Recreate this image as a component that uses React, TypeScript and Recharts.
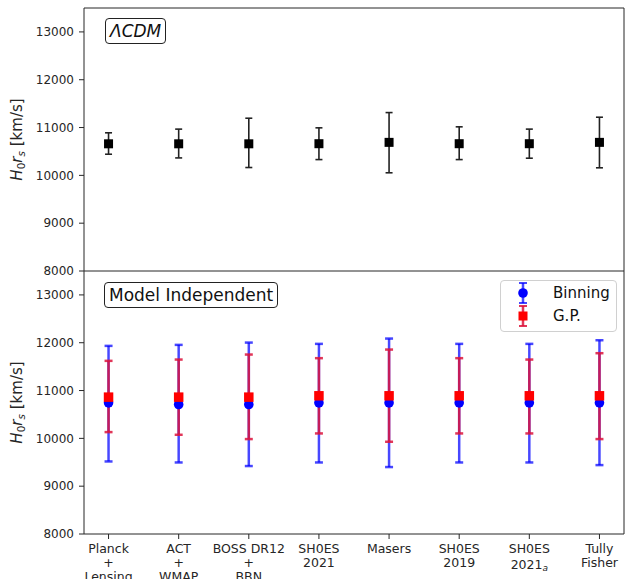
import React from 'react';
import { ScatterChart, Scatter, XAxis, YAxis, ErrorBar, ReferenceLine } from 'recharts';

// ---------- data ----------
const categories = [
  'Planck\n+\nLensing',
  'ACT\n+\nWMAP',
  'BOSS DR12\n+\nBBN',
  'SH0ES\n2021',
  'Masers',
  'SH0ES\n2019',
  'SH0ES\n2021_a',
  'Tully\nFisher',
];

const lcdmCenter = [10660, 10660, 10660, 10662, 10690, 10662, 10662, 10690];
const lcdmUpper = [10890, 10967, 11195, 10994, 11313, 11015, 10967, 11216];
const lcdmLower = [10442, 10365, 10164, 10330, 10054, 10330, 10359, 10158];

const binCenter = [10743, 10708, 10708, 10743, 10743, 10743, 10743, 10743];
const binUpper = [11934, 11955, 12003, 11976, 12087, 11976, 11976, 12052];
const binLower = [9517, 9496, 9421, 9496, 9400, 9496, 9496, 9441];

const gpCenter = [10862, 10862, 10862, 10890, 10890, 10890, 10890, 10890];
const gpUpper = [11621, 11648, 11753, 11677, 11857, 11677, 11648, 11781];
const gpLower = [10131, 10075, 9985, 10103, 9929, 10103, 10103, 9985];

const yTicks = [8000, 9000, 10000, 11000, 12000, 13000];
const yMin = 8000;
const yMax = 13500;
const xTicks = [0, 1, 2, 3, 4, 5, 6, 7];
const xMin = -0.35;
const xMax = 7.35;

const build = (c: number[], lo: number[], hi: number[]) =>
  c.map((v, i) => ({ x: i, y: v, err: [v - lo[i], hi[i] - v] }));

const lcdmData = build(lcdmCenter, lcdmLower, lcdmUpper);
const binData = build(binCenter, binLower, binUpper);
const gpData = build(gpCenter, gpLower, gpUpper);

// ---------- styles ----------
const FONT = '"DejaVu Sans", sans-serif';
const AX = '#262626';
const BLUE = '#0000ff';
const RED = '#ff0000';
const BLUE_BAR = 'rgba(0,0,255,0.72)';
const RED_BAR = 'rgba(220,20,60,0.85)';

const Square = (size: number, fill: string) => (props: any) => {
  const { cx, cy } = props;
  if (cx == null || cy == null) return null;
  return <rect x={cx - size / 2} y={cy - size / 2} width={size} height={size} fill={fill} />;
};
const Circle = (r: number, fill: string) => (props: any) => {
  const { cx, cy } = props;
  if (cx == null || cy == null) return null;
  return <circle cx={cx} cy={cy} r={r} fill={fill} />;
};

const XTick = (props: any) => {
  const { x, y, payload } = props;
  const label = categories[payload.value] || '';
  const lines = label.split('\n');
  const out: React.ReactNode[] = [];
  lines.forEach((l: string, k: number) => {
    const dy = k === 0 ? 10.5 : 14.2;
    if (l.includes('_')) {
      const [a, b] = l.split('_');
      out.push(
        <tspan key={k + 'a'} x={x} dy={dy + 2}>
          {a}
        </tspan>
      );
      out.push(
        <tspan key={k + 'b'} fontStyle="italic" fontSize={9} dy={2}>
          {b}
        </tspan>
      );
    } else {
      out.push(
        <tspan key={k} x={x} dy={dy}>
          {l}
        </tspan>
      );
    }
  });
  return (
    <text x={x} y={y} textAnchor="middle" fontSize={12.5} fill={AX} fontFamily={FONT}>
      {out}
    </text>
  );
};

const YLabel = ({ top }: { top: number }) => (
  <svg width={30} height={263} style={{ position: 'absolute', left: 0, top, overflow: 'visible' }}>
    <text
      transform={`translate(22, 131.5) rotate(-90)`}
      textAnchor="middle"
      fontSize={15}
      fontFamily={FONT}
      fill={AX}
    >
      <tspan fontStyle="italic">H</tspan>
      <tspan fontSize={10.5} dy={3}>0</tspan>
      <tspan fontStyle="italic" dy={-3}>r</tspan>
      <tspan fontStyle="italic" fontSize={10.5} dy={3}>s</tspan>
      <tspan dy={-3}> [km/s]</tspan>
    </text>
  </svg>
);

const Box = ({ left, top, children, italic }: any) => (
  <div
    style={{
      position: 'absolute',
      left,
      top,
      border: '1px solid #222',
      borderRadius: 4,
      background: 'white',
      padding: '1px 4px',
      fontFamily: FONT,
      fontSize: 17,
      lineHeight: '22px',
      fontStyle: italic ? 'italic' : 'normal',
      color: '#111',
      whiteSpace: 'nowrap',
    }}
  >
    {children}
  </div>
);

const LegendIcon = ({ color, barColor, square }: any) => (
  <svg width={20} height={26} style={{ display: 'block' }}>
    <line x1={10} x2={10} y1={3} y2={23} stroke={barColor} strokeWidth={2.5} />
    <line x1={6} x2={14} y1={3} y2={3} stroke={barColor} strokeWidth={2} />
    <line x1={6} x2={14} y1={23} y2={23} stroke={barColor} strokeWidth={2} />
    {square ? (
      <rect x={5.5} y={8.5} width={9} height={9} fill={color} />
    ) : (
      <circle cx={10} cy={13} r={4.8} fill={color} />
    )}
  </svg>
);

const yAxisProps = {
  type: 'number' as const,
  dataKey: 'y',
  domain: [yMin, yMax],
  ticks: yTicks,
  allowDataOverflow: true,
  width: 84,
  tickSize: 5,
  tickMargin: 5,
  tick: { fontSize: 12, fill: AX, fontFamily: FONT },
  tickLine: { stroke: AX },
  axisLine: { stroke: AX, strokeWidth: 1 },
  interval: 0 as const,
};

export default function App() {
  return (
    <div
      style={{
        position: 'absolute',
        left: 0,
        top: 0,
        width: 625,
        height: 579,
        background: 'white',
        overflow: 'hidden',
      }}
    >
      {/* bottom panel */}
      <div style={{ position: 'absolute', left: 0, top: 270 }}>
        <ScatterChart width={625} height={309} margin={{ top: 1, right: 1, bottom: 0, left: 0 }}>
          <XAxis
            type="number"
            dataKey="x"
            domain={[xMin, xMax]}
            ticks={xTicks}
            allowDataOverflow
            height={45}
            interval={0}
            tickSize={5}
            tickMargin={3}
            tick={<XTick />}
            tickLine={{ stroke: AX }}
            axisLine={{ stroke: AX, strokeWidth: 1 }}
          />
          <YAxis {...yAxisProps} />
          <ReferenceLine y={yMax} stroke={AX} strokeWidth={1} ifOverflow="visible" />
          <ReferenceLine x={xMax} stroke={AX} strokeWidth={1} ifOverflow="visible" />
          <Scatter data={binData} isAnimationActive={false} shape={Circle(4.8, BLUE)}>
            <ErrorBar dataKey="err" direction="y" width={4} stroke={BLUE_BAR} strokeWidth={2.5} />
          </Scatter>
          <Scatter data={gpData} isAnimationActive={false} shape={Square(9.5, RED)}>
            <ErrorBar dataKey="err" direction="y" width={4} stroke={RED_BAR} strokeWidth={2.5} />
          </Scatter>
        </ScatterChart>
      </div>

      {/* top panel */}
      <div style={{ position: 'absolute', left: 0, top: 0 }}>
        <ScatterChart width={625} height={286} margin={{ top: 8, right: 1, bottom: 15, left: 0 }}>
          <XAxis
            type="number"
            dataKey="x"
            domain={[xMin, xMax]}
            ticks={xTicks}
            allowDataOverflow
            height={0}
            tick={false}
            tickLine={false}
            axisLine={{ stroke: AX, strokeWidth: 1 }}
          />
          <YAxis {...yAxisProps} />
          <ReferenceLine y={yMax} stroke={AX} strokeWidth={1} ifOverflow="visible" />
          <ReferenceLine x={xMax} stroke={AX} strokeWidth={1} ifOverflow="visible" />
          <Scatter data={lcdmData} isAnimationActive={false} shape={Square(9, '#000')}>
            <ErrorBar dataKey="err" direction="y" width={3.5} stroke="#222" strokeWidth={1.6} />
          </Scatter>
        </ScatterChart>
      </div>

      <YLabel top={8} />
      <YLabel top={271} />

      <Box left={105} top={18} italic>
        ΛCDM
      </Box>
      <Box left={104} top={282}>
        Model Independent
      </Box>

      {/* legend */}
      <div
        style={{
          position: 'absolute',
          left: 500,
          top: 280,
          width: 115,
          height: 50,
          border: '1px solid #d0d0d0',
          borderRadius: 4,
          background: 'rgba(255,255,255,0.85)',
          fontFamily: FONT,
          fontSize: 15,
          color: '#111',
        }}
      >
        <div style={{ position: 'absolute', left: 12, top: -1, display: 'flex', alignItems: 'center' }}>
          <LegendIcon color={BLUE} barColor={BLUE_BAR} />
          <span style={{ marginLeft: 20 }}>Binning</span>
        </div>
        <div style={{ position: 'absolute', left: 12, top: 22, display: 'flex', alignItems: 'center' }}>
          <LegendIcon color={RED} barColor={RED_BAR} square />
          <span style={{ marginLeft: 20 }}>G.P.</span>
        </div>
      </div>
    </div>
  );
}
